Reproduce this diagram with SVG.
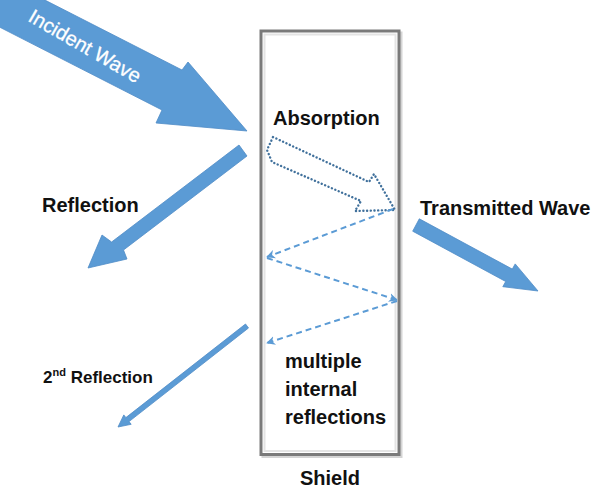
<svg xmlns="http://www.w3.org/2000/svg" width="595" height="496" viewBox="0 0 595 496">
  <style>
    .lbl { font-family: "Liberation Sans", Arial, sans-serif; font-weight: bold; font-size: 20px; fill: #111; }
    .blk { fill: #5b9bd5; stroke: #4f8cc6; stroke-width: 0.8; stroke-linejoin: miter; }
    .dash { fill: none; stroke: #5b9bd5; stroke-width: 2; stroke-dasharray: 6 4; }
    .dot { fill: none; stroke: #41719c; stroke-width: 2.4; stroke-dasharray: 0.1 3.6; stroke-linecap: round; stroke-linejoin: round; }
  </style>
  <defs>
    <marker id="ah" viewBox="0 0 10 10" refX="9" refY="5" markerWidth="9" markerHeight="9" markerUnits="userSpaceOnUse" orient="auto">
      <path d="M0,0 L10,5 L0,10 L3,5 Z" fill="#5b9bd5"/>
    </marker>
  </defs>
  <rect width="595" height="496" fill="#ffffff"/>

  <g id="shield">
    <rect x="263" y="33" width="138" height="423.5" fill="none" stroke="#d4d4d4" stroke-width="3"/>
    <rect x="261" y="31" width="138" height="423.5" fill="#ffffff" stroke="#7a7a7a" stroke-width="3"/>
    <rect x="264.5" y="34.5" width="131" height="416.5" fill="none" stroke="#e4e4e4" stroke-width="2"/>
    <text class="lbl" x="300" y="485">Shield</text>
  </g>

  <g id="connectors">
    <g id="incident-wave">
      <polygon class="blk" points="-14,-30 182,70 188,62 247,131 156,123 162,110 -34,10"/>
      <text transform="translate(85,46) rotate(30)" x="0" y="7" text-anchor="middle" font-family="Liberation Sans, Arial, sans-serif" font-size="20" fill="#ffffff" stroke="#ffffff" stroke-width="0.3">Incident Wave</text>
    </g>
    <g id="reflection-arrow">
      <polygon class="blk" points="239,145 247,156 123.5,250 127,259 88,268 102,235 111.6,242"/>
    </g>
    <g id="transmitted-arrow">
      <polygon class="blk" points="419.3,218.8 512.3,269.1 515.2,263.9 538,291 502.8,286.7 505.7,281.5 412.7,231.2"/>
    </g>
    <g id="second-reflection-arrow">
      <polygon class="blk" points="245.5,324 248.5,328 129,421.6 131.2,424.3 118,427 123.8,414.9 125.9,417.6"/>
    </g>
    <g id="absorption-arrow">
      <polygon class="dot" points="273,137 369,182 374,174 395,210 355,211 361,201 272,162 267,150"/>
    </g>
    <g id="internal-reflections">
      <path class="dash" d="M393,209 L267,257" marker-end="url(#ah)"/>
      <path class="dash" d="M267,258 L397,300" marker-end="url(#ah)"/>
      <path class="dash" d="M397,301 L267,343" marker-end="url(#ah)"/>
    </g>
  </g>

  <g id="labels">
    <text class="lbl" x="273" y="125">Absorption</text>
    <text class="lbl" x="42" y="212">Reflection</text>
    <text class="lbl" x="420" y="215">Transmitted Wave</text>
    <text class="lbl" x="43" y="383" style="font-size:17px">2<tspan dy="-7" style="font-size:11px">nd</tspan><tspan dy="7"> Reflection</tspan></text>
    <text class="lbl" x="285" y="368">multiple</text>
    <text class="lbl" x="285" y="396">internal</text>
    <text class="lbl" x="285" y="424">reflections</text>
  </g>
</svg>
